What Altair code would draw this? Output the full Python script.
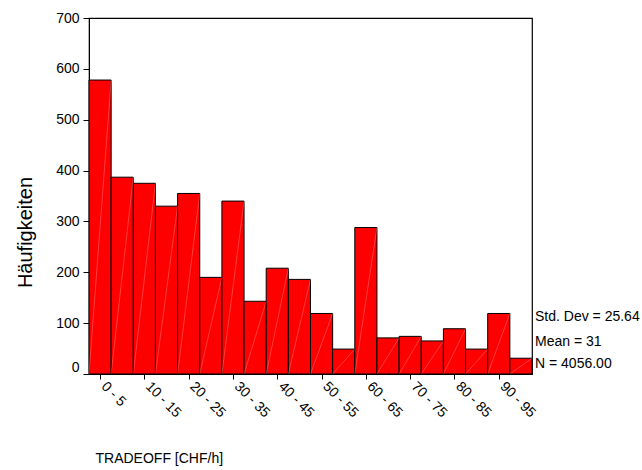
import altair as alt
import pandas as pd

# ---- data ----
bin_start = [0, 5, 10, 15, 20, 25, 30, 35, 40, 45, 50, 55, 60, 65, 70, 75, 80, 85, 90, 95]
bin_width = 5
counts = [578, 387, 375, 330, 355, 190, 340, 143, 208, 186,
          119, 49, 288, 71, 74, 65, 89, 49, 119, 31]
tick_values = [2.5, 12.5, 22.5, 32.5, 42.5, 52.5, 62.5, 72.5, 82.5, 92.5]
tick_labels = ["0 - 5", "10 - 15", "20 - 25", "30 - 35", "40 - 45",
               "50 - 55", "60 - 65", "70 - 75", "80 - 85", "90 - 95"]
y_ticks = [0, 100, 200, 300, 400, 500, 600, 700]
stats_lines = ["Std. Dev = 25.64", "Mean = 31", "N = 4056.00"]

df = pd.DataFrame({
    "start": bin_start,
    "end": [s + bin_width for s in bin_start],
    "count": counts,
    "zero": [0] * len(counts),
})

W, H = 443, 356
PAD_L, PAD_T = 89, 18
FONT = "Liberation Sans"

label_map = "{" + ", ".join(f"'{v}': '{l}'" for v, l in zip(tick_values, tick_labels)) + "}"
label_expr = f"({label_map})[toString(datum.value)]"

xscale = alt.Scale(domain=[0, 100], nice=False, zero=False)
yscale = alt.Scale(domain=[0, 700], nice=False)

bars = alt.Chart(df).mark_bar(
    color="#ff0000", stroke="black", strokeWidth=1, opacity=1
).encode(
    x=alt.X("start:Q", scale=xscale,
            axis=alt.Axis(values=tick_values, labelExpr=label_expr,
                          labelAngle=45, labelAlign="left", labelBaseline="middle",
                          labelPadding=5, labelOffset=3, tickSize=5, grid=False,
                          domainColor="black", tickColor="black",
                          labelColor="black", labelFont=FONT, labelFontSize=14,
                          labelOverlap=False,
                          title="TRADEOFF [CHF/h]", titleFont=FONT, titleFontSize=14,
                          titleFontWeight="normal", titleColor="black",
                          titleAnchor="start", titleAlign="left", titleBaseline="alphabetic",
                          titleX=6, titleY=88)),
    x2="end:Q",
    y=alt.Y("count:Q", scale=yscale,
            axis=alt.Axis(values=y_ticks, tickSize=6, grid=False,
                          domainColor="black", tickColor="black",
                          labelColor="black", labelFont=FONT, labelFontSize=14,
                          labelPadding=4,
                          labelBaseline=alt.condition("datum.value == 0",
                                                      alt.value("bottom"),
                                                      alt.value("middle")),
                          title="Häufigkeiten", titleFont=FONT, titleFontSize=20,
                          titleFontWeight="normal", titleColor="black",
                          titleAngle=-90, titleAlign="center", titleBaseline="middle",
                          titleX=-64, titleY=214)),
    y2="zero:Q",
)

diag = alt.Chart(df).mark_rule(color="white", strokeWidth=0.6, opacity=0.4).encode(
    x=alt.X("start:Q", scale=xscale),
    x2="end:Q",
    y=alt.Y("zero:Q", scale=yscale),
    y2="count:Q",
)

stat_y = [299, 324, 346]
texts = [
    alt.Chart(pd.DataFrame({"t": [line]})).mark_text(
        align="left", baseline="middle", font=FONT, fontSize=14, color="black"
    ).encode(text="t:N", x=alt.value(W + 3), y=alt.value(yy))
    for line, yy in zip(stats_lines, stat_y)
]

chart = alt.layer(bars, diag, *texts).properties(
    width=W, height=H,
    autosize=alt.AutoSizeParams(type="none"),
    padding={"left": PAD_L, "top": PAD_T,
             "right": 642 - PAD_L - W, "bottom": 470 - PAD_T - H},
    background="white",
).configure_view(stroke="black", strokeWidth=1.2)

chart.save("out.html", embed_options={"renderer": "svg", "actions": False})
